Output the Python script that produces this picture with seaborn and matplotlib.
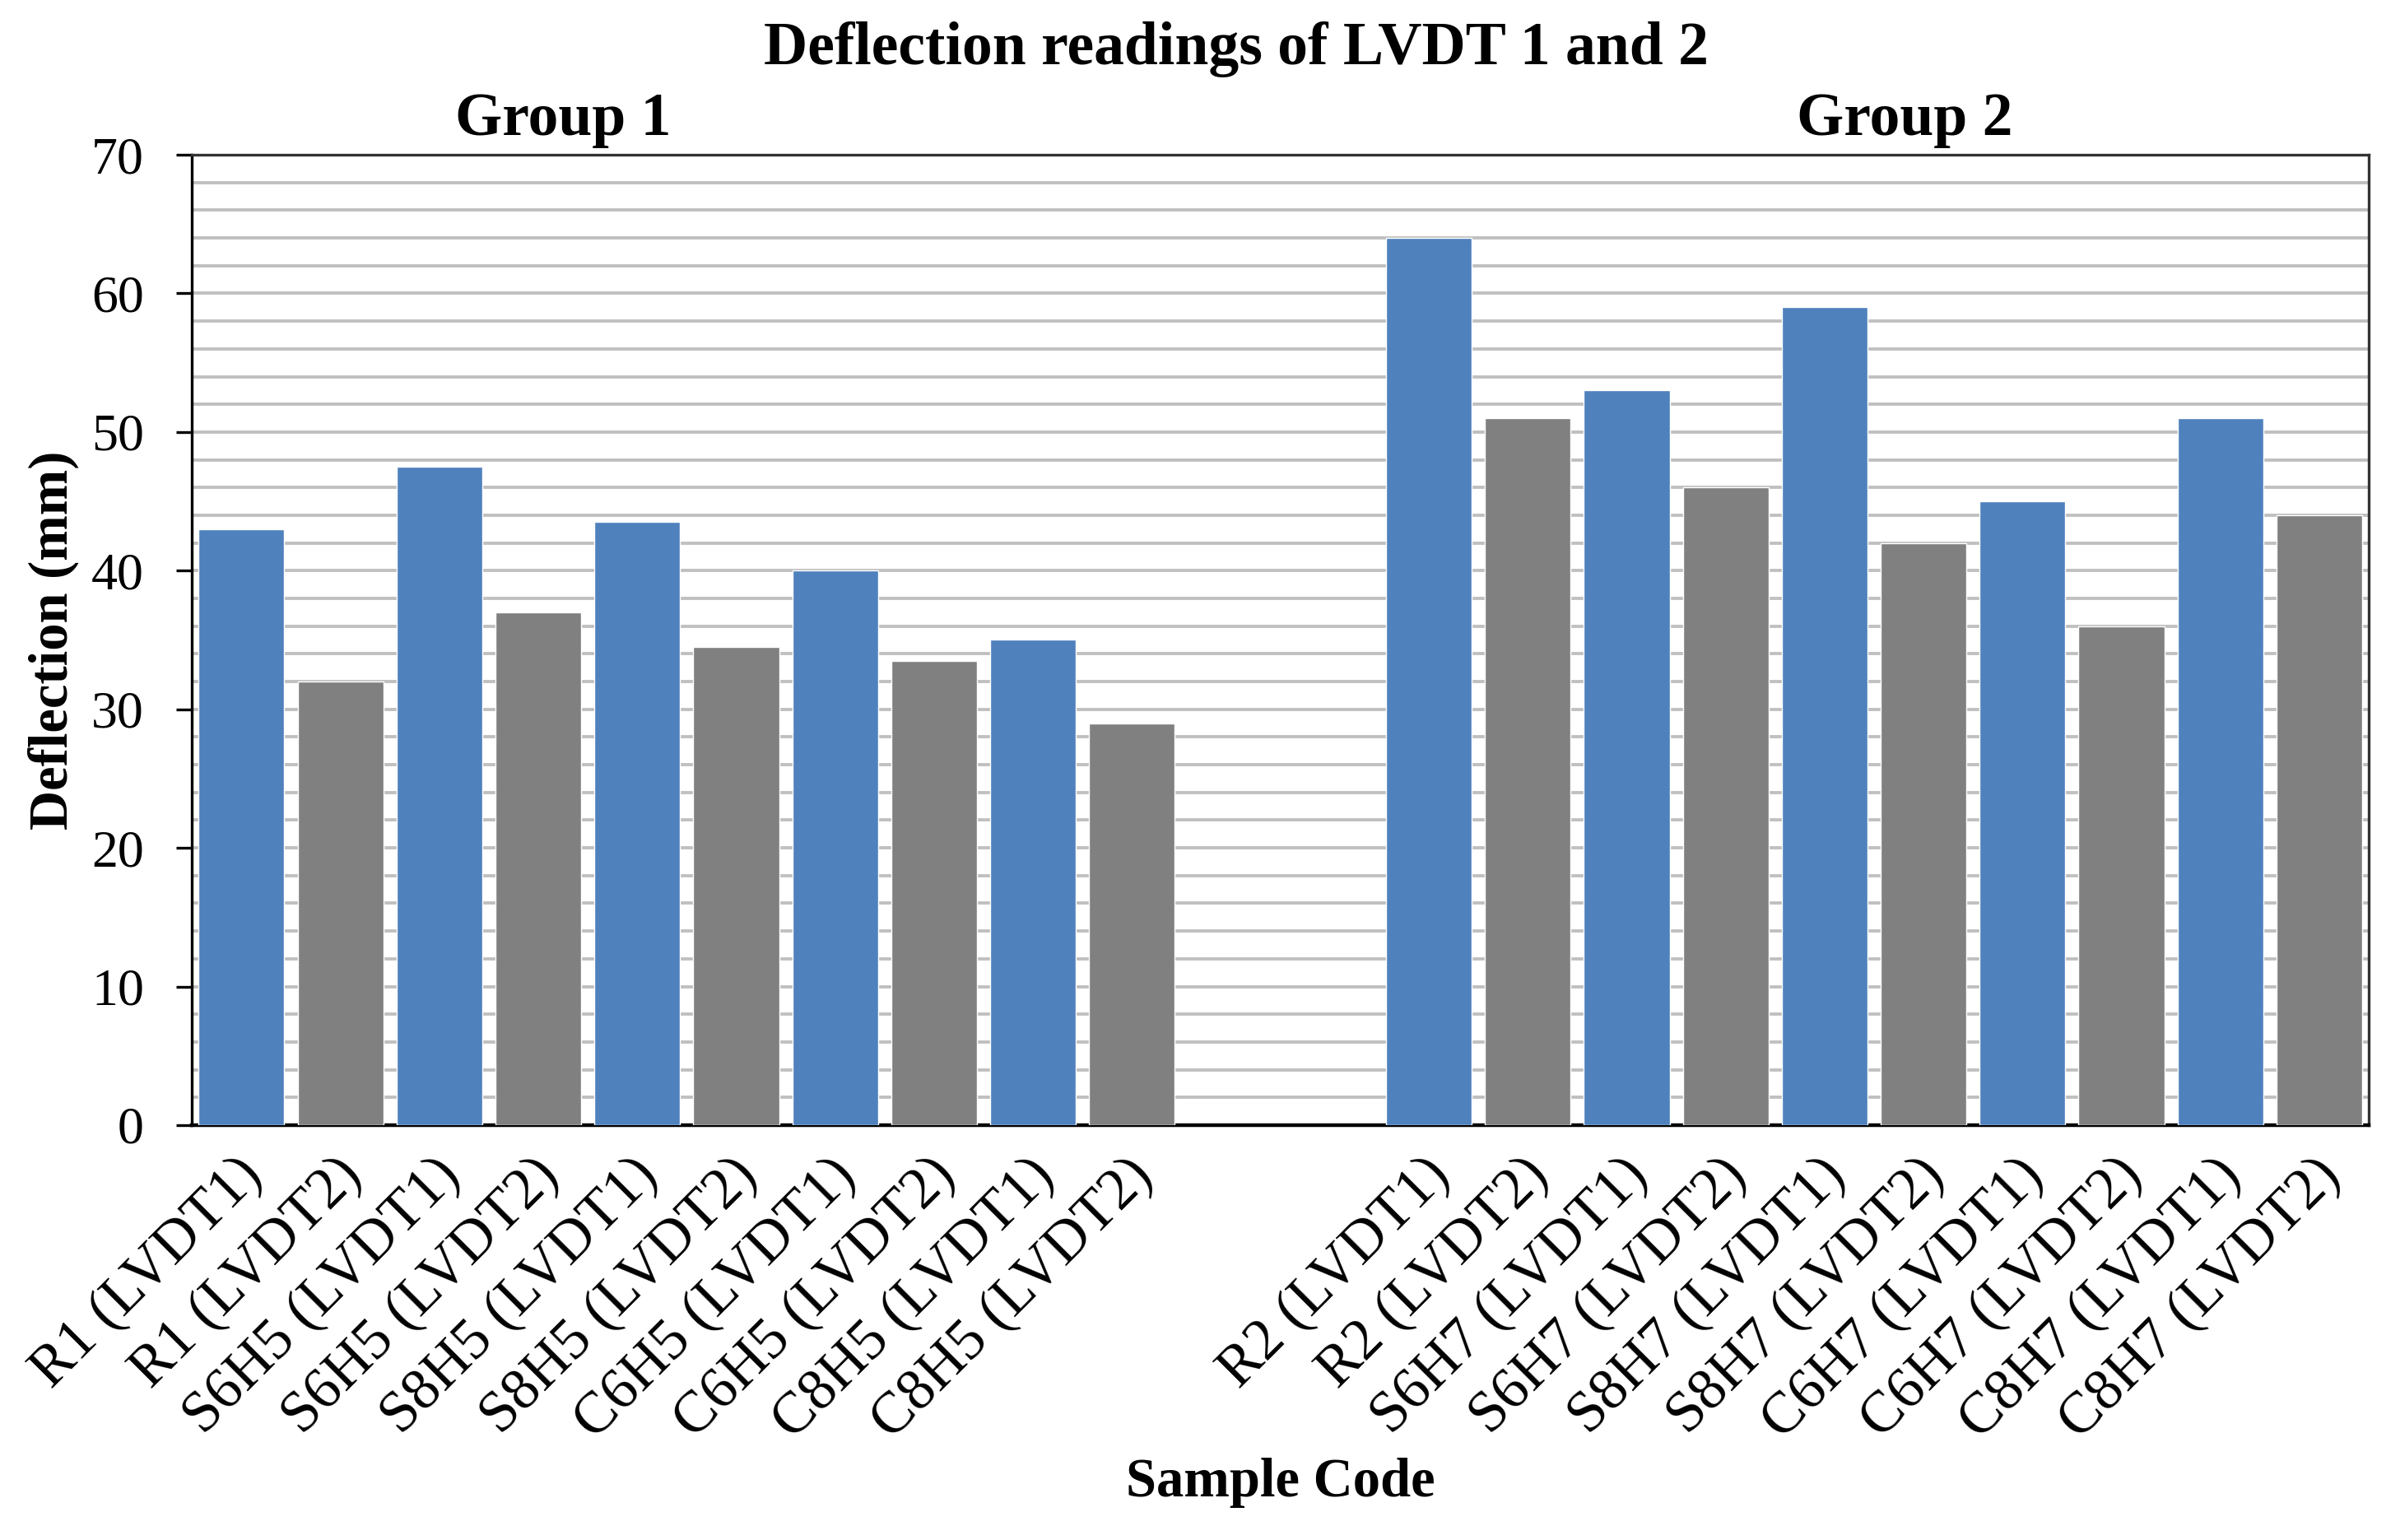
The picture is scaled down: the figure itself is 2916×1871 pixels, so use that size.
import matplotlib
matplotlib.use("Agg")
import matplotlib.pyplot as plt
from matplotlib.ticker import MultipleLocator
from matplotlib.transforms import ScaledTranslation
import seaborn as sns
import pandas as pd

# ---- data ----
group1_codes = ["R1 (LVDT1)", "R1 (LVDT2)", "S6H5 (LVDT1)", "S6H5 (LVDT2)",
                "S8H5 (LVDT1)", "S8H5 (LVDT2)", "C6H5 (LVDT1)", "C6H5 (LVDT2)",
                "C8H5 (LVDT1)", "C8H5 (LVDT2)"]
group1_values = [43, 32, 47.5, 37, 43.5, 34.5, 40, 33.5, 35, 29]
group2_codes = ["R2 (LVDT1)", "R2 (LVDT2)", "S6H7 (LVDT1)", "S6H7 (LVDT2)",
                "S8H7 (LVDT1)", "S8H7 (LVDT2)", "C6H7 (LVDT1)", "C6H7 (LVDT2)",
                "C8H7 (LVDT1)", "C8H7 (LVDT2)"]
group2_values = [64, 51, 53, 46, 59, 42, 45, 36, 51, 44]
gap_slots = ["", " "]

title = "Deflection readings of LVDT 1 and 2"
group_labels = ["Group 1", "Group 2"]
y_label = "Deflection (mm)"
x_label = "Sample Code"

codes = group1_codes + group2_codes
values = group1_values + group2_values
sensor = ["LVDT1" if "LVDT1" in c else "LVDT2" for c in codes]
df = pd.DataFrame({"code": codes, "value": values, "sensor": sensor})
order = group1_codes + gap_slots + group2_codes

sns.set_style("white")
plt.rcParams["font.family"] = ["Liberation Serif", "DejaVu Serif"]
plt.rcParams["text.color"] = "black"
plt.rcParams["axes.labelcolor"] = "black"
plt.rcParams["xtick.color"] = "black"
plt.rcParams["ytick.color"] = "black"

fig = plt.figure(figsize=(29.16, 18.71), dpi=100)
left, right, bottom, top = 0.0800, 0.9870, 0.2694, 0.8995
ax = fig.add_axes([left, bottom, right - left, top - bottom])

sns.barplot(data=df, x="code", y="value", hue="sensor", order=order,
            palette={"LVDT1": "#4F81BD", "LVDT2": "#808080"},
            dodge=False, width=0.866, errorbar=None, legend=False,
            saturation=1, ax=ax, zorder=3)

ax.set_ylim(0, 70)
ax.set_xlim(-0.5, len(order) - 0.5)
ax.yaxis.set_major_locator(MultipleLocator(10))
ax.yaxis.set_minor_locator(MultipleLocator(2))
ax.grid(which="both", axis="y", color="#c0c0c0", linewidth=2.8)
ax.grid(False, axis="x")
ax.set_axisbelow(True)

for s in ax.spines.values():
    s.set_visible(True)
    s.set_color("#333333")
    s.set_linewidth(2.4)
ax.spines["bottom"].set_color("black")
ax.spines["bottom"].set_linewidth(3.2)
ax.spines["left"].set_color("black")

ax.tick_params(axis="y", which="major", direction="out", length=14, width=2.4,
               labelsize=46, pad=28, left=True)
ax.tick_params(axis="y", which="minor", length=0)
ax.tick_params(axis="x", length=0, labelsize=51, pad=20)

ax.set_xticks(range(len(order)))
ax.set_xticklabels(order, rotation=45, ha="right", rotation_mode="anchor")
offset = ScaledTranslation(-8 / 100, 0, fig.dpi_scale_trans)
for lab in ax.get_xticklabels():
    lab.set_transform(lab.get_transform() + offset)

ax.set_xlabel(x_label, fontsize=48, fontweight="bold")
ax.xaxis.set_label_coords(0.5, -0.343)
ax.set_ylabel(y_label, fontsize=48, fontweight="bold")
ax.yaxis.set_label_coords(-0.052, 0.5)

fig.text(0.515, 0.968, title, ha="center", va="center", fontsize=53, fontweight="bold")
fig.text(0.2346, 0.922, group_labels[0], ha="center", va="center", fontsize=53, fontweight="bold")
fig.text(0.7935, 0.922, group_labels[1], ha="center", va="center", fontsize=53, fontweight="bold")

fig.savefig("out.png", dpi=100)
